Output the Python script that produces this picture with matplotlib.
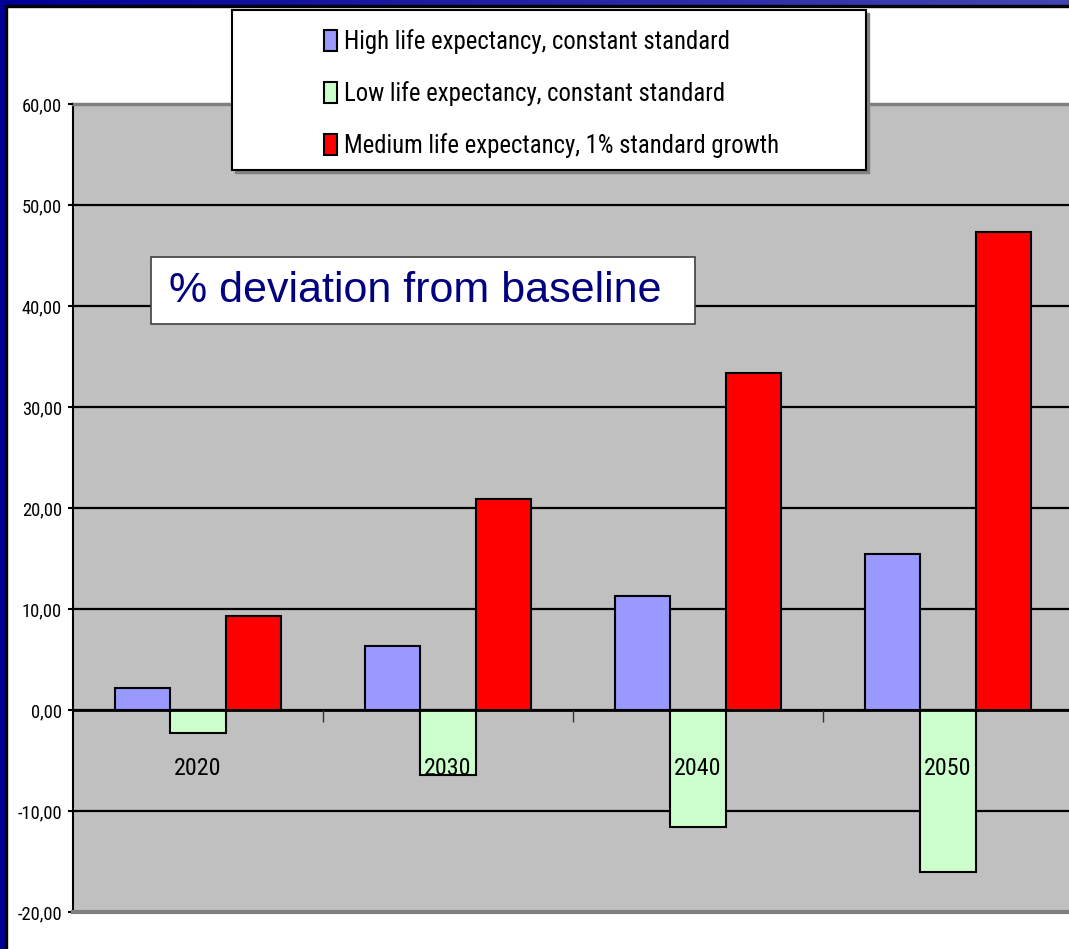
import os
import matplotlib
matplotlib.use("Agg")
import matplotlib.pyplot as plt
import numpy as np
from matplotlib import font_manager as fm
from matplotlib.font_manager import FontProperties
from matplotlib.textpath import TextPath
from matplotlib.patches import Rectangle, Patch
from matplotlib.colors import LinearSegmentedColormap
from matplotlib.ticker import FuncFormatter, FixedLocator

years = ["2020", "2030", "2040", "2050"]
high_const = [2.15, 6.35, 11.3, 15.4]
low_const = [-2.25, -6.4, -11.55, -16.0]
medium_growth = [9.3, 20.85, 33.4, 47.3]
series_names = ["High life expectancy, constant standard",
                "Low life expectancy, constant standard",
                "Medium life expectancy, 1% standard growth"]
series_colors = ["#9999FF", "#CCFFCC", "#FF0000"]
y_ticks = [-20, -10, 0, 10, 20, 30, 40, 50, 60]

W, H = 1069, 949
DPI = 100


def fx(x):
    return x / W


def fy(y):
    return 1 - y / H


def narrow_font():
    """Find a condensed sans face, else plain Liberation Sans."""
    ok = [f for f in fm.fontManager.ttflist
          if f.style == "normal" and f.weight in (400, "normal", "regular")]
    for name in ["Liberation Sans Narrow", "Arial Narrow", "Roboto Condensed",
                 "Open Sans Condensed", "Noto Sans Condensed"]:
        for f in ok:
            if f.name == name:
                return f.fname
    for f in ok:
        base = os.path.basename(f.fname)
        if ("Narrow" in base or "Condensed" in base or f.stretch in ("condensed", "semi-condensed")) \
                and "Bold" not in base and "Oblique" not in base and "Italic" not in base:
            return f.fname
    return fm.findfont(FontProperties(family="Liberation Sans"))


def fit_size(fname, text, width_px):
    # point size at which the inked text spans width_px pixels
    w100 = TextPath((0, 0), text, size=100, prop=FontProperties(fname=fname)).get_extents().width
    return width_px * 72 / w100


NARROW = narrow_font()
leg_size = fit_size(NARROW, series_names[2], 433)
tick_size = fit_size(NARROW, "60,00", 38)
year_size = fit_size(NARROW, "2040", 45)

fig = plt.figure(figsize=(W / DPI, H / DPI), dpi=DPI, facecolor="white")

# slide frame: blue band along top and left
band = fig.add_axes([0, fy(5), 1, 5 / H])
band.imshow(np.linspace(0, 1, 256)[None, :], aspect="auto",
            cmap=LinearSegmentedColormap.from_list("frame", ["#000099", "#4444B4"]))
band.set_axis_off()
fig.patches.append(Rectangle((0, fy(7)), 1, 2 / H, transform=fig.transFigure,
                             color="black", zorder=3))
fig.patches.append(Rectangle((0, 0), 5 / W, 1, transform=fig.transFigure,
                             color="#000099", zorder=3))
fig.patches.append(Rectangle((5 / W, 0), 2 / W, fy(5), transform=fig.transFigure,
                             color="black", zorder=3))

ax = fig.add_axes([fx(73), fy(912), (1073 - 73) / W, (912 - 104) / H])
ax.set_facecolor("#C0C0C0")
ax.set_axisbelow(False)  # year labels sit on top of the bars

x = np.arange(len(years))
w = 1 / 4.5
for i, (vals, col) in enumerate(zip([high_const, low_const, medium_growth], series_colors)):
    ax.bar(x + (i - 1) * w, vals, width=w, color=col, edgecolor="black",
           linewidth=1.5, zorder=2)

ax.set_xlim(-0.5, len(years) - 0.5)
ax.set_ylim(-20, 60)
ax.set_yticks(y_ticks)
ax.yaxis.set_major_formatter(FuncFormatter(lambda v, p: f"{v:.2f}".replace(".", ",")))
for t in y_ticks[1:-1]:
    ax.axhline(t, color="black", linewidth=1.6, zorder=0.5)

ax.spines["right"].set_visible(False)
ax.spines["top"].set_color("#808080")
ax.spines["top"].set_linewidth(2.5)
ax.spines["left"].set_color("black")
ax.spines["left"].set_linewidth(1.5)
ax.spines["bottom"].set_position(("data", 0))
ax.spines["bottom"].set_linewidth(2)
ax.axhline(-20, color="#808080", linewidth=3, zorder=3, clip_on=False)

year_px = year_size * DPI / 72
ax.xaxis.set_major_locator(FixedLocator([0.5, 1.5, 2.5]))
ax.xaxis.set_major_formatter(FuncFormatter(lambda v, p: ""))
ax.xaxis.set_minor_locator(FixedLocator(list(x)))
ax.set_xticklabels(years, minor=True)
ax.tick_params(axis="x", which="major", direction="out", length=8.5, width=1, color="#333333")
ax.tick_params(axis="x", which="minor", length=0, pad=(62 - 0.62 * year_px) * 0.72)
ax.tick_params(axis="y", direction="out", length=3.6, width=1.5, pad=4.3)
for lab in ax.get_xticklabels(minor=True):
    lab.set_fontproperties(FontProperties(fname=NARROW, size=year_size))
for lab in ax.get_yticklabels():
    lab.set_fontproperties(FontProperties(fname=NARROW, size=tick_size))

# legend box with shadow
fig.patches.append(Rectangle((fx(235), fy(173)), (866 - 232) / W, 160 / H,
                             transform=fig.transFigure, color="#808080", zorder=4))
fig.patches.append(Rectangle((fx(232), fy(170)), (866 - 232) / W, 160 / H,
                             transform=fig.transFigure, facecolor="white",
                             edgecolor="black", linewidth=1.5, zorder=4))
leg_px = leg_size * DPI / 72
handles = [Patch(facecolor=c, edgecolor="black", linewidth=1.5) for c in series_colors]
leg = fig.legend(handles, series_names, loc="upper left",
                 bbox_to_anchor=(fx(324), fy(29)), bbox_transform=fig.transFigure,
                 frameon=False, borderpad=0, borderaxespad=0,
                 handlelength=13 / leg_px, handleheight=23 / leg_px,
                 handletextpad=7 / leg_px, labelspacing=27 / leg_px,
                 prop=FontProperties(fname=NARROW, size=leg_size))
leg.set_zorder(6)

# caption box inside the plot
fig.patches.append(Rectangle((fx(151), fy(324)), (695 - 151) / W, (324 - 257) / H,
                             transform=fig.transFigure, facecolor="white",
                             edgecolor="#404040", linewidth=1.2, zorder=4))
fig.text(fx(169), fy(291), "% deviation from baseline", fontsize=31,
         family="Liberation Sans", color="#000080", va="center", ha="left", zorder=6)

fig.savefig("out.png", dpi=DPI, facecolor="white")
